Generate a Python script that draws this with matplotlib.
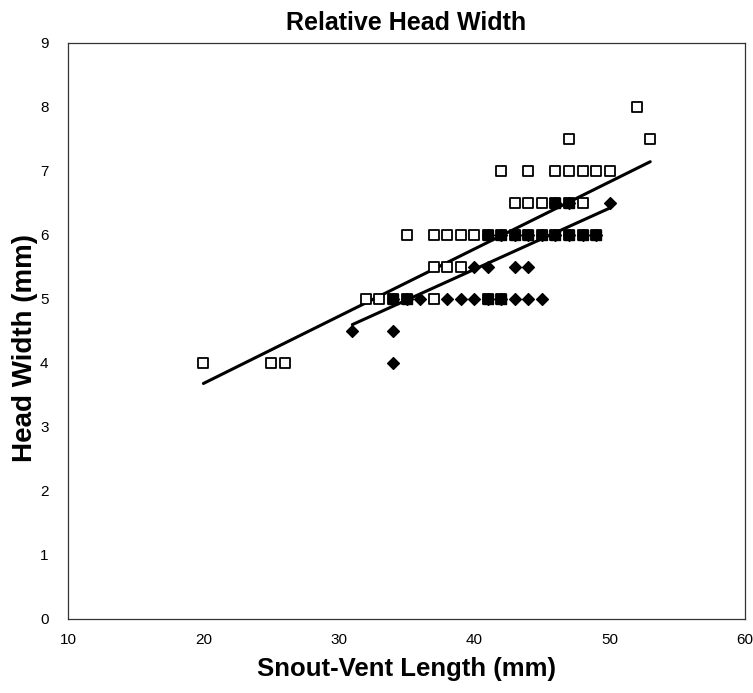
import numpy as np
import matplotlib
matplotlib.use('Agg')
import matplotlib.pyplot as plt

plt.rcParams['font.family'] = ['Liberation Sans', 'DejaVu Sans']

# Open squares series (SVL, head width)
sq_x = [20, 25, 26,
        32, 33, 34, 35, 37, 41, 42,
        37, 38, 39,
        35, 37, 38, 39, 40, 41, 42, 43, 44, 45, 46, 47, 48, 49,
        43, 44, 45, 46, 47, 48,
        42, 44, 46, 47, 48, 49, 50,
        47, 53, 52]
sq_y = [4, 4, 4,
        5, 5, 5, 5, 5, 5, 5,
        5.5, 5.5, 5.5,
        6, 6, 6, 6, 6, 6, 6, 6, 6, 6, 6, 6, 6, 6,
        6.5, 6.5, 6.5, 6.5, 6.5, 6.5,
        7, 7, 7, 7, 7, 7, 7,
        7.5, 7.5, 8]

# Filled diamonds series
dm_x = [31, 34, 34,
        34, 35, 36, 38, 39, 40, 41, 42, 43, 44, 45,
        40, 41, 43, 44,
        41, 42, 43, 44, 45, 46, 47, 48, 49,
        46, 47, 50]
dm_y = [4.5, 4.5, 4,
        5, 5, 5, 5, 5, 5, 5, 5, 5, 5, 5,
        5.5, 5.5, 5.5, 5.5,
        6, 6, 6, 6, 6, 6, 6, 6, 6,
        6.5, 6.5, 6.5]

# Trend lines (slope, intercept)
sq_fit = (0.105, 1.58)
dm_fit = (0.0958, 1.63)

fig = plt.figure(figsize=(7.53, 6.93), dpi=100)
ax = fig.add_axes([68 / 753, 1 - 619 / 693, (745 - 68) / 753, (619 - 43) / 693])

# Trend lines
for xs, (m, b) in [(sq_x, sq_fit), (dm_x, dm_fit)]:
    lx = np.array([min(xs), max(xs)])
    ax.plot(lx, m * lx + b, color='black', lw=2.2, zorder=2, solid_capstyle='round')

ax.scatter(sq_x, sq_y, marker='s', s=52, facecolor='white', edgecolor='black',
           linewidth=1.3, zorder=3)
ax.scatter(dm_x, dm_y, marker='D', s=36, color='black', zorder=4)

# where both series coincide the print shows a solid square
both = set(zip(sq_x, sq_y)) & set(zip(dm_x, dm_y))
bx = [p[0] for p in both]
by = [p[1] for p in both]
ax.scatter(bx, by, marker='s', s=52, color='black', zorder=5)

ax.set_xlim(10, 60)
ax.set_ylim(0, 9)
ax.set_xticks(range(10, 61, 10))
ax.set_yticks(range(0, 10))
ax.tick_params(length=0, labelsize=11, pad=14)
ax.tick_params(axis='x', pad=10)
for s in ax.spines.values():
    s.set_linewidth(0.9)
    s.set_color('#333333')

ax.set_title('Relative Head Width', fontsize=18, fontweight='bold', pad=9)
ax.set_xlabel('Snout-Vent Length (mm)', fontsize=18.5, fontweight='bold', labelpad=7)
ax.set_ylabel('Head Width (mm)', fontsize=20, fontweight='bold')
ax.yaxis.set_label_coords(-0.045, 0.47)

fig.savefig('out.png', dpi=100)
